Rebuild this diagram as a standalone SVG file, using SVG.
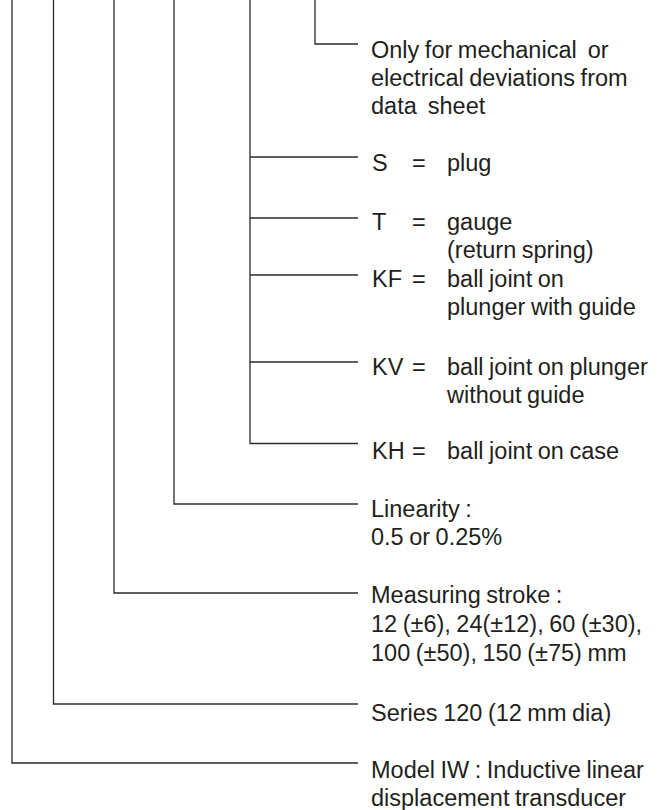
<svg xmlns="http://www.w3.org/2000/svg" width="664" height="810" viewBox="0 0 664 810">
<style>
.c{fill:none;stroke:#2b2b2b;stroke-width:1.3}
text{font-family:"Liberation Sans",Arial,sans-serif;font-size:23.5px;fill:#231f20;word-spacing:-1px;white-space:pre}
</style>
<rect width="664" height="810" fill="#fff"/>
<g id="connectors">
<path class="c" d="M315,0V44H358"/>
<path class="c" d="M250,0V443.5H358M250,157H358M250,218H358M250,275H358M250,362H358"/>
<path class="c" d="M174,0V504H358"/>
<path class="c" d="M114,0V593H358"/>
<path class="c" d="M53.5,0V704H358"/>
<path class="c" d="M12,0V763H358"/>
</g>
<g id="n-special"><text x="371" y="58">Only for mechanical  or</text><text x="371" y="86">electrical deviations from</text><text x="371" y="114">data  sheet</text></g>
<g id="n-S"><text x="372" y="171">S</text><text x="412" y="171">=</text><text x="447" y="171">plug</text></g>
<g id="n-T"><text x="372" y="230">T</text><text x="412" y="230">=</text><text x="447" y="230">gauge</text><text x="447" y="258">(return spring)</text></g>
<g id="n-KF"><text x="372" y="287">KF</text><text x="412" y="287">=</text><text x="447" y="287">ball joint on</text><text x="447" y="315">plunger with guide</text></g>
<g id="n-KV"><text x="372" y="375">KV</text><text x="412" y="375">=</text><text x="447" y="375">ball joint on plunger</text><text x="447" y="403">without guide</text></g>
<g id="n-KH"><text x="372" y="459">KH</text><text x="412" y="459">=</text><text x="447" y="459">ball joint on case</text></g>
<g id="n-linearity"><text x="371" y="517">Linearity :</text><text x="371" y="545">0.5 or 0.25%</text></g>
<g id="n-stroke"><text x="371" y="603">Measuring stroke :</text><text x="371" y="632">12 (±6), 24(±12), 60 (±30),</text><text x="371" y="661">100 (±50), 150 (±75) mm</text></g>
<g id="n-series"><text x="371" y="721">Series 120 (12 mm dia)</text></g>
<g id="n-model"><text x="371" y="778">Model IW : Inductive linear</text><text x="371" y="806">displacement transducer</text></g>
</svg>
